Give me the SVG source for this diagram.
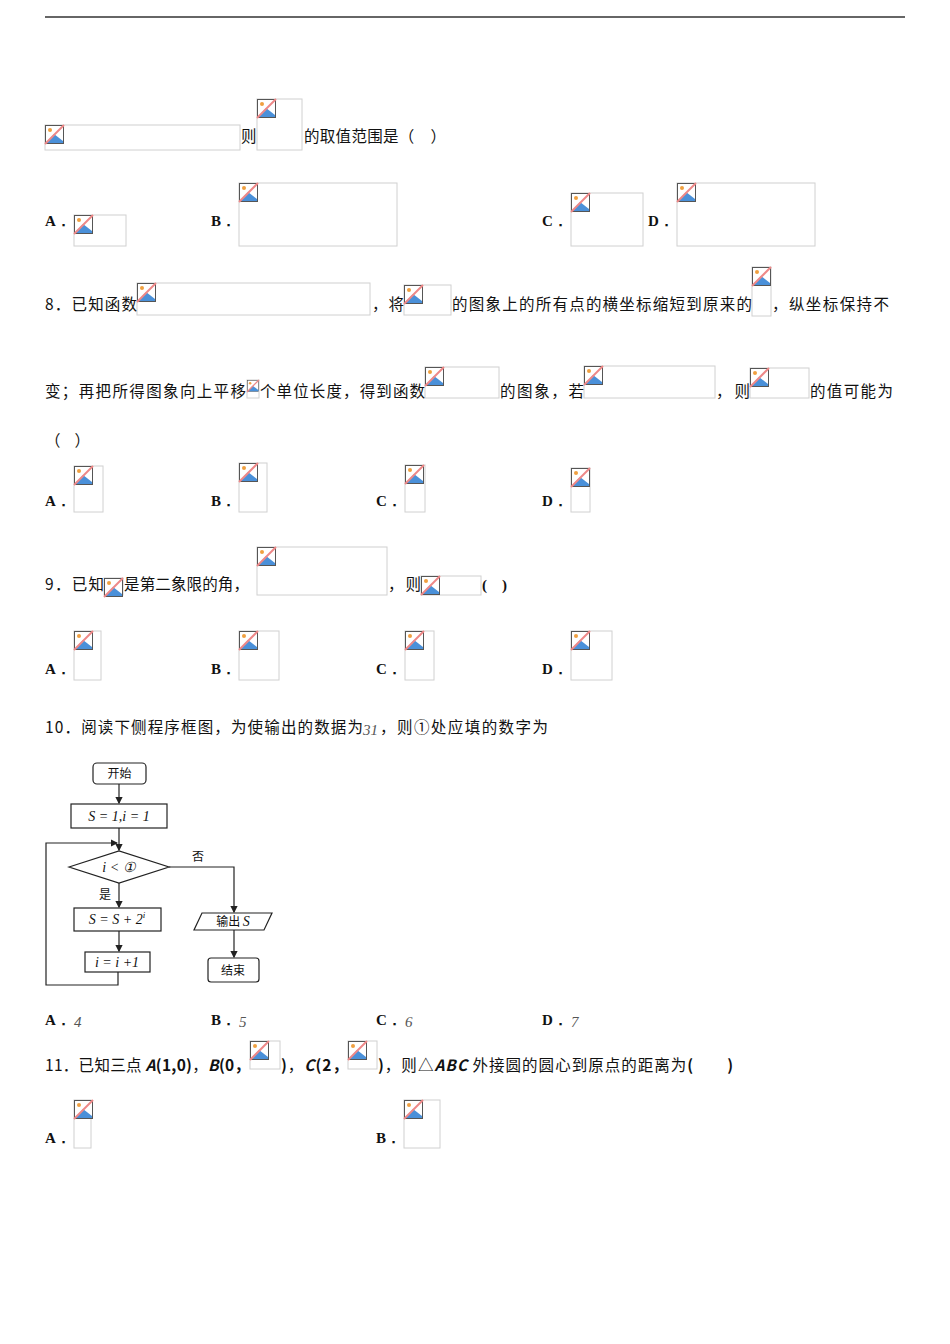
<svg xmlns="http://www.w3.org/2000/svg" width="950" height="1344" viewBox="0 0 950 1344">
<style>
.t{font-family:"Noto Sans CJK SC","Liberation Serif",serif;font-size:15.5px;fill:#111}
.l{font-family:"Liberation Serif",serif;font-size:15px;font-weight:bold;fill:#111}
.n{font-family:"Liberation Serif",serif;font-size:15px;font-style:italic;fill:#555}
.ph{fill:none;stroke:#d0d0d0;stroke-width:1}
.f{fill:#fff;stroke:#222;stroke-width:1.2}
.fl{fill:none;stroke:#222;stroke-width:1.2}
.ft{font-family:"Noto Sans CJK SC",sans-serif;font-size:12px;fill:#111}
.fm{font-family:"Liberation Serif",serif;font-size:14px;font-style:italic;fill:#111}
</style>
<defs>
<g id="ic">
<rect x="0.5" y="0.5" width="18" height="18" fill="#fff" stroke="#555"/>
<circle cx="5" cy="5" r="2" fill="#f0a040"/>
<path d="M1 18 L9 9 L18 16 L18 18Z" fill="#4a90d9"/>
<line x1="0" y1="19" x2="19" y2="0" stroke="#e88" stroke-width="2"/>
</g>
<marker id="a" markerWidth="6" markerHeight="6" refX="5" refY="3" orient="auto"><path d="M0 0L6 3L0 6Z" fill="#222"/></marker>
</defs>
<line x1="45" y1="17" x2="905" y2="17" stroke="#333" stroke-width="1.5"/>
<g id="placeholders">
<rect class="ph" x="45" y="125" width="195" height="25"/><use href="#ic" x="45" y="125"/>
<rect class="ph" x="257" y="99" width="45" height="51"/><use href="#ic" x="257" y="99"/>
<rect class="ph" x="74" y="215" width="52" height="31"/><use href="#ic" x="74" y="215"/>
<rect class="ph" x="239" y="183" width="158" height="63"/><use href="#ic" x="239" y="183"/>
<rect class="ph" x="571" y="193" width="72" height="53"/><use href="#ic" x="571" y="193"/>
<rect class="ph" x="677" y="183" width="138" height="63"/><use href="#ic" x="677" y="183"/>
<rect class="ph" x="137" y="283" width="233" height="32"/><use href="#ic" x="137" y="283"/>
<rect class="ph" x="404" y="285" width="47" height="30"/><use href="#ic" x="404" y="285"/>
<rect class="ph" x="752" y="267" width="19" height="49"/><use href="#ic" x="752" y="267"/>
<rect class="ph" x="247" y="380" width="12" height="18"/><use href="#ic" x="247" y="380" transform="translate(247 380) scale(0.63) translate(-247 -380)"/>
<rect class="ph" x="425" y="367" width="74" height="31"/><use href="#ic" x="425" y="367"/>
<rect class="ph" x="584" y="366" width="131" height="32"/><use href="#ic" x="584" y="366"/>
<rect class="ph" x="750" y="368" width="59" height="30"/><use href="#ic" x="750" y="368"/>
<rect class="ph" x="74" y="466" width="29" height="46"/><use href="#ic" x="74" y="466"/>
<rect class="ph" x="239" y="463" width="28" height="49"/><use href="#ic" x="239" y="463"/>
<rect class="ph" x="405" y="465" width="20" height="47"/><use href="#ic" x="405" y="465"/>
<rect class="ph" x="571" y="468" width="19" height="44"/><use href="#ic" x="571" y="468"/>
<rect class="ph" x="104" y="578" width="19" height="17"/><use href="#ic" x="104" y="578"/>
<rect class="ph" x="257" y="547" width="130" height="48"/><use href="#ic" x="257" y="547"/>
<rect class="ph" x="421" y="576" width="60" height="19"/><use href="#ic" x="421" y="576"/>
<rect class="ph" x="74" y="631" width="27" height="49"/><use href="#ic" x="74" y="631"/>
<rect class="ph" x="239" y="631" width="40" height="49"/><use href="#ic" x="239" y="631"/>
<rect class="ph" x="405" y="631" width="29" height="49"/><use href="#ic" x="405" y="631"/>
<rect class="ph" x="571" y="631" width="41" height="49"/><use href="#ic" x="571" y="631"/>
<rect class="ph" x="250" y="1041" width="30" height="28"/><use href="#ic" x="250" y="1041"/>
<rect class="ph" x="348" y="1041" width="29" height="28"/><use href="#ic" x="348" y="1041"/>
<rect class="ph" x="74" y="1100" width="17" height="48"/><use href="#ic" x="74" y="1100"/>
<rect class="ph" x="404" y="1100" width="36" height="48"/><use href="#ic" x="404" y="1100"/>
</g>
<g id="text">
<text class="t" x="241" y="142">则</text>
<text class="t" x="304" y="142" textLength="142">的取值范围是（　）</text>
<text class="l" x="45" y="226">A．</text><text class="l" x="211" y="226">B．</text><text class="l" x="542" y="226">C．</text><text class="l" x="648" y="226">D．</text>
<text class="t" x="45" y="310" textLength="92">8．已知函数</text>
<text class="t" x="372" y="310" textLength="32">，将</text>
<text class="t" x="452" y="310" textLength="300">的图象上的所有点的横坐标缩短到原来的</text>
<text class="t" x="772" y="310" textLength="117">，纵坐标保持不</text>
<text class="t" x="45" y="397" textLength="201">变；再把所得图象向上平移</text>
<text class="t" x="260" y="397" textLength="165">个单位长度，得到函数</text>
<text class="t" x="500" y="397" textLength="84">的图象，若</text>
<text class="t" x="716" y="397" textLength="34">，则</text>
<text class="t" x="810" y="397" textLength="83">的值可能为</text>
<text class="t" x="45" y="446" textLength="45">（　）</text>
<text class="l" x="45" y="506">A．</text><text class="l" x="211" y="506">B．</text><text class="l" x="376" y="506">C．</text><text class="l" x="542" y="506">D．</text>
<text class="t" x="45" y="590" textLength="59">9．已知</text>
<text class="t" x="124" y="590" textLength="125">是第二象限的角，</text>
<text class="t" x="388" y="590" textLength="33">，则</text>
<text class="l" x="482" y="590">(　)</text>
<text class="l" x="45" y="674">A．</text><text class="l" x="211" y="674">B．</text><text class="l" x="376" y="674">C．</text><text class="l" x="542" y="674">D．</text>
<text class="t" x="45" y="733" textLength="318">10．阅读下侧程序框图，为使输出的数据为</text>
<text class="n" x="363" y="735">31</text>
<text class="t" x="380" y="733" textLength="168">，则①处应填的数字为</text>
<text class="l" x="45" y="1025">A．</text><text class="n" x="74" y="1027">4</text>
<text class="l" x="211" y="1025">B．</text><text class="n" x="239" y="1027">5</text>
<text class="l" x="376" y="1025">C．</text><text class="n" x="405" y="1027">6</text>
<text class="l" x="542" y="1025">D．</text><text class="n" x="571" y="1027">7</text>
<text class="t" x="45" y="1071" textLength="205">11．已知三点 <tspan font-weight="bold" font-style="italic">A</tspan><tspan font-weight="bold">(1,0)</tspan>，<tspan font-weight="bold" font-style="italic">B</tspan><tspan font-weight="bold">(0，</tspan></text>
<text class="t" x="281" y="1071" textLength="67"><tspan font-weight="bold">)</tspan>，<tspan font-weight="bold" font-style="italic">C</tspan><tspan font-weight="bold">(2，</tspan></text>
<text class="t" x="378" y="1071" textLength="355"><tspan font-weight="bold">)</tspan>，则△<tspan font-style="italic" font-weight="bold">ABC</tspan> 外接圆的圆心到原点的距离为<tspan font-weight="bold">(　　)</tspan></text>
<text class="l" x="45" y="1143">A．</text><text class="l" x="376" y="1143">B．</text>
</g>
<g id="flow-connectors">
<line class="fl" x1="119" y1="784" x2="119" y2="803" marker-end="url(#a)"/>
<line class="fl" x1="119" y1="828" x2="119" y2="850" marker-end="url(#a)"/>
<line class="fl" x1="119" y1="883" x2="119" y2="907" marker-end="url(#a)"/>
<line class="fl" x1="119" y1="931" x2="119" y2="951" marker-end="url(#a)"/>
<polyline class="fl" points="118,972 118,985 46,985 46,843 117,843" marker-end="url(#a)"/>
<polyline class="fl" points="169,867 234,867 234,912" marker-end="url(#a)"/>
<line class="fl" x1="234" y1="930" x2="234" y2="957" marker-end="url(#a)"/>
</g>
<g id="flow-start"><rect class="f" x="93" y="763" width="53" height="21" rx="4"/><text class="ft" x="119.5" y="778" text-anchor="middle">开始</text></g>
<g id="flow-init"><rect class="f" x="71" y="804" width="96" height="24"/><text class="fm" x="119" y="821" text-anchor="middle">S = 1,i = 1</text></g>
<g id="flow-cond"><polygon class="f" points="69,867 119,851 169,867 119,883"/><text class="fm" x="119" y="872" text-anchor="middle">i &lt; ①</text></g>
<text class="ft" x="99" y="899">是</text>
<text class="ft" x="192" y="861">否</text>
<g id="flow-sum"><rect class="f" x="74" y="908" width="87" height="23"/><text class="fm" x="117" y="924" text-anchor="middle">S = S + 2<tspan font-size="9" dy="-6">i</tspan></text></g>
<g id="flow-inc"><rect class="f" x="85" y="952" width="65" height="20"/><text class="fm" x="117" y="967" text-anchor="middle">i = i +1</text></g>
<g id="flow-out"><polygon class="f" points="202,913 272,913 264,930 194,930"/><text class="ft" x="233" y="926" text-anchor="middle">输出 <tspan class="fm">S</tspan></text></g>
<g id="flow-end"><rect class="f" x="208" y="958" width="51" height="24" rx="3"/><text class="ft" x="233" y="975" text-anchor="middle">结束</text></g>
</svg>
